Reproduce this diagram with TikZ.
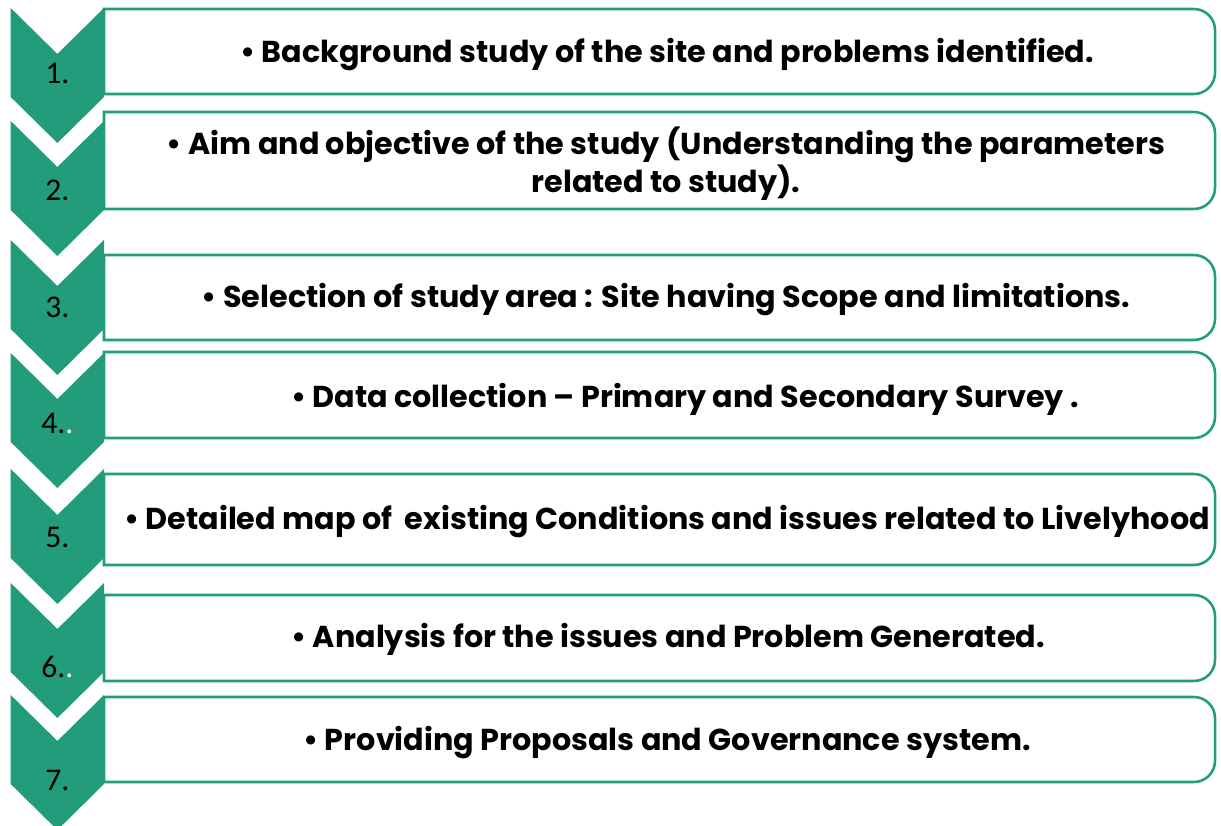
\documentclass[tikz,border=0pt]{standalone}
\usepackage{fontspec}
\setmainfont{Poppins}
\newfontfamily\numfont{Carlito}
\definecolor{stepgreen}{RGB}{34,156,122}

\begin{document}
\begin{tikzpicture}[x=0.025cm, y=-0.025cm,
  chev/.style={fill=stepgreen},
  card/.style={draw=stepgreen, line width=1.8pt, fill=white},
  cardtext/.style={font=\fontsize{21.5}{27}\selectfont\bfseries, align=center, inner sep=0pt},
  numtext/.style={font=\numfont\fontsize{22.5}{26}\selectfont, text=black, inner sep=0pt},
  ]
  \useasboundingbox (0,0) rectangle (1221,826);

  %%% chevrons down the left side (top edge / label height) %%%
  \foreach \ty/\ny/\nl [count=\i] in {8/73/1., 121/190/2., 240/307/3., 353/423/4.\textcolor{white}{.},
      469/537/5., 583/667/6.\textcolor{white}{.}, 695/780/7.} {
    \fill[chev] (10.7,\ty) -- (57.4,\ty+46) -- (104,\ty) -- (104,\ty+89)
      -- (57.4,\ty+135) -- (10.7,\ty+89) -- cycle;
    \node[numtext] (num\i) at (57.4,\ny) {\nl};
  }

  %%% step cards, square on the left and rounded on the right %%%
  \foreach \top/\bot in {9/94, 112/209, 255/340, 352/438, 474/565, 595/681, 697/782}
    \draw[card] (600,\top) [rounded corners=15pt] -- (1215,\top) -- (1215,\bot) -- (600,\bot)
      [sharp corners] -- (104,\bot) -- (104,\top) -- cycle;

  %%% step texts %%%
  \node[cardtext] (stepA) at (667,55)  {• Background study of the site and problems identified.};
  \node[cardtext] (stepB) at (666,164) {• Aim and objective of the study (Understanding the parameters\\ related to study).};
  \node[cardtext] (stepC) at (666,300) {• Selection of study area : Site having Scope and limitations.};
  \node[cardtext] (stepD) at (685,399) {• Data collection – Primary and Secondary Survey .};
  \node[cardtext] (stepE) at (667,522) {• Detailed map of~ existing Conditions and issues related to Livelyhood};
  \node[cardtext] (stepF) at (668,639) {• Analysis for the issues and Problem Generated.};
  \node[cardtext] (stepG) at (667,743) {• Providing Proposals and Governance system.};
\end{tikzpicture}
\end{document}
